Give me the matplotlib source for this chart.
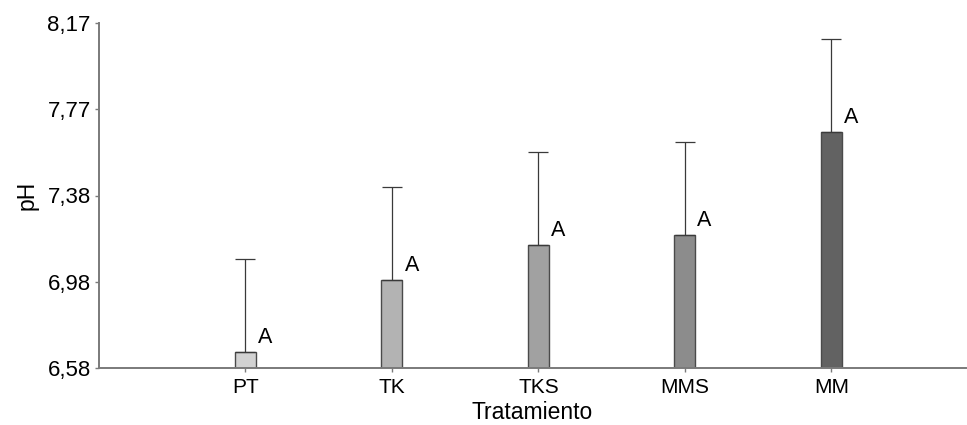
import numpy as np
import matplotlib
matplotlib.use("Agg")
import matplotlib.pyplot as plt

plt.rcParams['font.family'] = ['Liberation Sans', 'DejaVu Sans']

# Treatment means and standard errors of pH
tratamientos = ["PT", "TK", "TKS", "MMS", "MM"]
ph_medias = [6.654, 6.984, 7.147, 7.193, 7.666]
ph_error = [0.428, 0.430, 0.428, 0.430, 0.430]
letras = ["A", "A", "A", "A", "A"]
colores = ["#d2d2d2", "#b3b3b3", "#a1a1a1", "#8c8c8c", "#626262"]

y_ticks = [6.58, 6.9775, 7.375, 7.7725, 8.17]
y_labels = ["6,58", "6,98", "7,38", "7,77", "8,17"]

base = y_ticks[0]
x = np.arange(len(tratamientos))
medias = np.array(ph_medias)
ancho = 0.143

fig = plt.figure(figsize=(9.67, 4.25), dpi=100)
ax = fig.add_axes([0.1024, 0.134, 0.8966, 0.812])

ax.bar(x, medias - base, bottom=base, width=ancho, color=colores,
       edgecolor="#4a4a4a", linewidth=1.0, zorder=2)
ax.errorbar(x, medias, yerr=[np.zeros(len(x)), ph_error], fmt="none",
            ecolor="#3a3a3a", elinewidth=0.9, capsize=7.5, capthick=0.9, zorder=3)

for xi, m, letra in zip(x, medias, letras):
    ax.annotate(letra, xy=(xi + ancho / 2, m), xytext=(1.5, 3),
                textcoords="offset points", ha="left", va="bottom",
                fontsize=15.5, color="black")

ax.set_xlim(-1.0, 4.92)
ax.set_ylim(y_ticks[0], y_ticks[-1])
ax.set_yticks(y_ticks)
ax.set_yticklabels(y_labels)
ax.set_xticks(x)
ax.set_xticklabels(tratamientos)

for s in ["top", "right"]:
    ax.spines[s].set_visible(False)
for s in ["left", "bottom"]:
    ax.spines[s].set_color("#7a7a7a")
    ax.spines[s].set_linewidth(1.4)

ax.tick_params(axis="y", labelsize=16, length=3, width=1, color="#7a7a7a", pad=3)
ax.tick_params(axis="x", labelsize=15, length=3, width=1, color="#7a7a7a", pad=4)

ax.set_xlabel("Tratamiento", fontsize=16.5, labelpad=3)
ax.set_ylabel("pH", fontsize=16.5, labelpad=6)

fig.savefig("out.png", dpi=100)
